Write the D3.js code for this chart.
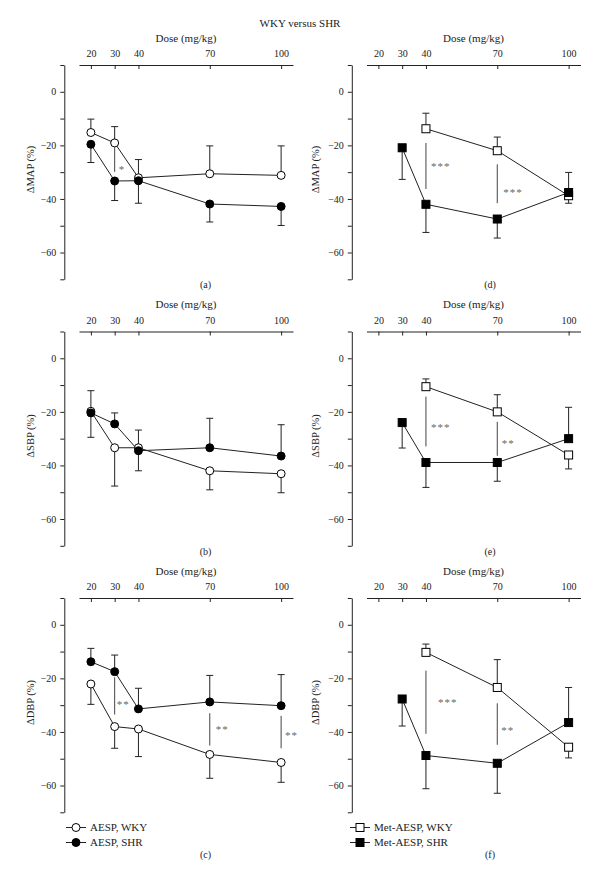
<!DOCTYPE html>
<html>
<head>
<meta charset="utf-8">
<script src="https://cdn.jsdelivr.net/npm/d3@7"></script>
<style>
body { margin:0; background:#fff; }
text { font-family: "Liberation Serif", "Times New Roman", serif; fill:#222; }
</style>
</head>
<body>
<div class="container"></div>
<script>
// doses (mg/kg)
var doseTicks = [20, 30, 40, 70, 100];
var aespDoses = [20, 30, 40, 70, 100];
var metWkyDoses = [40, 70, 100];
var metShrDoses = [30, 40, 70, 100];

// mean values (%) and signed error (+ drawn up, - drawn down)
var mapAespWky = [-15.2, -19.1, -32.1, -30.6, -31.2];
var mapAespWkyErr = [5.0, 6.1, 6.8, 10.4, 11.0];
var mapAespShr = [-19.6, -33.3, -33.2, -41.9, -42.8];
var mapAespShrErr = [-6.8, -7.3, -8.4, -6.7, -7.1];
var mapMetWky = [-13.8, -22.0, -38.8];
var mapMetWkyErr = [5.8, 5.1, -2.8];
var mapMetShr = [-20.9, -42.0, -47.5, -37.6];
var mapMetShrErr = [-11.8, -10.5, -7.1, 7.5];

var sbpAespWky = [-19.8, -33.4, -33.4, -42.0, -43.1];
var sbpAespWkyErr = [-9.7, -14.3, -8.6, -7.1, -7.1];
var sbpAespShr = [-20.4, -24.5, -34.5, -33.4, -36.5];
var sbpAespShrErr = [8.3, 4.1, 7.7, 11.0, 11.7];
var sbpMetWky = [-10.6, -20.0, -36.1];
var sbpMetWkyErr = [2.9, 6.4, -5.2];
var sbpMetShr = [-24.0, -38.9, -38.9, -30.0];
var sbpMetShrErr = [-9.5, -9.3, -7.0, 11.7];

var dbpAespWky = [-22.1, -38.0, -38.9, -48.4, -51.4];
var dbpAespWkyErr = [-7.6, -8.1, -10.3, -8.9, -7.4];
var dbpAespShr = [-13.8, -17.5, -31.4, -28.8, -30.2];
var dbpAespShrErr = [5.0, 6.2, 7.7, 9.9, 11.6];
var dbpMetWky = [-10.3, -23.4, -45.7];
var dbpMetWkyErr = [3.1, 10.4, -4.0];
var dbpMetShr = [-27.7, -48.8, -51.7, -36.5];
var dbpMetShrErr = [-10.1, -12.4, -11.2, 13.1];

// significance: dose, line top, line bottom, label value, label
var mapAespSig = [[30, -20.6, -29.9, -28.0, "*"]];
var mapMetSig = [[40, -19.1, -36.3, -27.1, "***"], [70, -27.1, -41.6, -36.7, "***"]];
var sbpAespSig = [];
var sbpMetSig = [[40, -14.3, -32.9, -24.9, "***"], [70, -23.7, -36.4, -31.0, "**"]];
var dbpAespSig = [[30, -19.6, -33.5, -28.9, "**"], [70, -33.0, -45.1, -38.2, "**"], [100, -34.0, -46.1, -40.3, "**"]];
var dbpMetSig = [[40, -17.1, -40.7, -28.0, "***"], [70, -29.3, -44.8, -38.5, "**"]];
// label offsets from the line (px)
var mapAespSigDx = [4];
var mapMetSigDx = [5, 6];
var sbpAespSigDx = [];
var sbpMetSigDx = [5, 4.5];
var dbpAespSigDx = [2, 6, 4];
var dbpMetSigDx = [12, 4];

var yTicks = [10, 0, -10, -20, -30, -40, -50, -60, -70];
var yLabels = ["\u0394MAP (%)", "\u0394SBP (%)", "\u0394DBP (%)"];
var panelLetters = [["(a)", "(d)"], ["(b)", "(e)"], ["(c)", "(f)"]];
var legendAesp = ["AESP, WKY", "AESP, SHR"];
var legendMet = ["Met-AESP, WKY", "Met-AESP, SHR"];

var W = 600, H = 882;
var svg = d3.select(".container").append("svg").attr("width", W).attr("height", H);

svg.append("text").attr("x", 300).attr("y", 27).attr("text-anchor", "middle")
	.style("font-size", "11px").text("WKY versus SHR");

var rowTop = [65, 331.5, 598];
var colOff = [0, 287.5];
var plotH = 214.3;

function circleMark(g, x, y, filled) {
	g.append("circle").attr("cx", x).attr("cy", y).attr("r", 4)
		.style("fill", filled ? "#000" : "#fff").style("stroke", "#000").style("stroke-width", 1);
}
function squareMark(g, x, y, filled) {
	g.append("rect").attr("x", x - 4).attr("y", y - 4).attr("width", 8).attr("height", 8)
		.style("fill", filled ? "#000" : "#fff").style("stroke", "#000").style("stroke-width", 1);
}

function drawPanel(row, col, series, sig, sigDx, yLabel, letter) {
	var off = colOff[col], top = rowTop[row];
	var x = d3.scaleLinear().domain([15, 105]).range([79 + off, 293 + off]);
	var y = d3.scaleLinear().domain([10, -70]).range([top, top + plotH]);
	var g = svg.append("g");

	var xa = g.append("g").attr("transform", "translate(0," + top + ")")
		.call(d3.axisTop(x).tickValues(doseTicks).tickSize(-4).tickSizeOuter(0).tickPadding(8));
	var ya = g.append("g").attr("transform", "translate(" + (64.3 + off) + ",0)")
		.call(d3.axisLeft(y).tickValues(yTicks).tickSize(4).tickSizeOuter(0).tickPadding(4)
			.tickFormat(function(d) { return d % 20 === 0 ? d3.format("")(d) : ""; }));
	[xa, ya].forEach(function(a) {
		a.selectAll("path, line").style("stroke", "#222");
		a.selectAll("text").style("font-size", "10px").style("fill", "#222")
			.style("font-family", "Liberation Serif, serif");
	});

	g.append("text").attr("x", 186 + off).attr("y", top - 23.5).attr("text-anchor", "middle")
		.style("font-size", "11px").text("Dose (mg/kg)");
	g.append("text").attr("transform", "translate(" + (33.5 + off - (col ? 2.5 : 0)) + "," + y(-29) + ") rotate(-90)")
		.attr("text-anchor", "middle").style("font-size", "10.5px").text(yLabel);
	var ly = row === 2 ? 858 : top + plotH + 9;
	g.append("text").attr("x", 205.5 + off - (col ? 3 : 0)).attr("y", ly).attr("text-anchor", "middle")
		.style("font-size", "10px").text(letter);

	var line = d3.line().x(function(d) { return x(d[0]); }).y(function(d) { return y(d[1]); });
	series.forEach(function(s) {
		var pts = s.doses.map(function(d, i) { return [d, s.vals[i], s.errs[i]]; });
		g.append("path").datum(pts).attr("d", line)
			.style("fill", "none").style("stroke", "#222").style("stroke-width", 1);
		pts.forEach(function(p) {
			var x0 = x(p[0]), y1 = y(p[1] + p[2]);
			g.append("line").attr("x1", x0).attr("x2", x0).attr("y1", y(p[1])).attr("y2", y1)
				.style("stroke", "#222").style("stroke-width", 1);
			g.append("line").attr("x1", x0 - 3.5).attr("x2", x0 + 3.5).attr("y1", y1).attr("y2", y1)
				.style("stroke", "#222").style("stroke-width", 1);
		});
	});
	series.forEach(function(s) {
		s.doses.forEach(function(d, i) { s.mark(g, x(d), y(s.vals[i]), s.filled); });
	});

	sig.forEach(function(s, i) {
		g.append("line").attr("x1", x(s[0])).attr("x2", x(s[0])).attr("y1", y(s[1])).attr("y2", y(s[2]))
			.style("stroke", "#444").style("stroke-width", 1);
		g.append("text").attr("x", x(s[0]) + sigDx[i]).attr("y", y(s[3]) + 6)
			.style("font-size", "11px").style("fill", "#666").style("letter-spacing", "1px").text(s[4]);
	});
}

var rowsAesp = [[mapAespWky, mapAespWkyErr, mapAespShr, mapAespShrErr, mapAespSig, mapAespSigDx],
	[sbpAespWky, sbpAespWkyErr, sbpAespShr, sbpAespShrErr, sbpAespSig, sbpAespSigDx],
	[dbpAespWky, dbpAespWkyErr, dbpAespShr, dbpAespShrErr, dbpAespSig, dbpAespSigDx]];
var rowsMet = [[mapMetWky, mapMetWkyErr, mapMetShr, mapMetShrErr, mapMetSig, mapMetSigDx],
	[sbpMetWky, sbpMetWkyErr, sbpMetShr, sbpMetShrErr, sbpMetSig, sbpMetSigDx],
	[dbpMetWky, dbpMetWkyErr, dbpMetShr, dbpMetShrErr, dbpMetSig, dbpMetSigDx]];

rowsAesp.forEach(function(r, i) {
	drawPanel(i, 0, [
		{doses: aespDoses, vals: r[0], errs: r[1], mark: circleMark, filled: false},
		{doses: aespDoses, vals: r[2], errs: r[3], mark: circleMark, filled: true}
	], r[4], r[5], yLabels[i], panelLetters[i][0]);
});
rowsMet.forEach(function(r, i) {
	drawPanel(i, 1, [
		{doses: metWkyDoses, vals: r[0], errs: r[1], mark: squareMark, filled: false},
		{doses: metShrDoses, vals: r[2], errs: r[3], mark: squareMark, filled: true}
	], r[4], r[5], yLabels[i], panelLetters[i][1]);
});

// legends
function legend(x0, labels, mark) {
	labels.forEach(function(t, i) {
		var yy = 827.5 + i * 15;
		svg.append("line").attr("x1", x0).attr("x2", x0 + 20).attr("y1", yy).attr("y2", yy)
			.style("stroke", "#222").style("stroke-width", 1);
		mark(svg, x0 + 10, yy, i === 1);
		svg.append("text").attr("x", x0 + 24).attr("y", yy + 3.5).style("font-size", "11px").text(t);
	});
}
legend(66, legendAesp, circleMark);
legend(350, legendMet, squareMark);
</script>
</body>
</html>
